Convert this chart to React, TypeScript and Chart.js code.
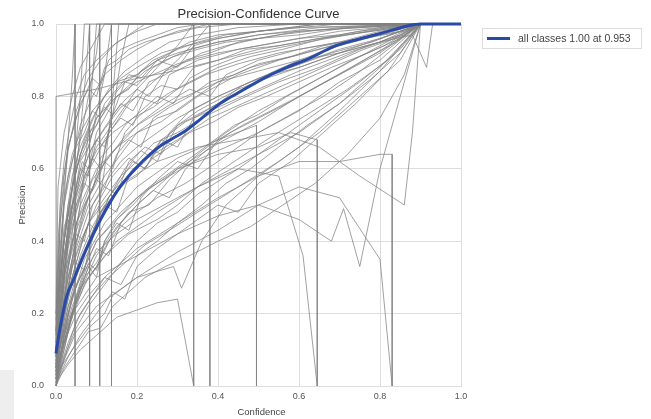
import React, { useEffect, useRef } from "react";
import { Chart, registerables } from "chart.js";

Chart.register(...registerables);

// ---- data ----
const tickValues = [0, 0.2, 0.4, 0.6, 0.8, 1.0];
const chartTitle = "Precision-Confidence Curve";
const xTitle = "Confidence";
const yTitle = "Precision";
const legendLabel = "all classes 1.00 at 0.953";

const allConf = [0, 0.01, 0.027, 0.042, 0.064, 0.084, 0.11, 0.135, 0.158, 0.2, 0.232, 0.26, 0.29, 0.32, 0.36, 0.405, 0.45, 0.52, 0.57, 0.627, 0.684, 0.72, 0.768, 0.83, 0.87, 0.9, 1.0];
const allPrec = [0.09, 0.16, 0.25, 0.29, 0.35, 0.4, 0.46, 0.51, 0.55, 0.605, 0.64, 0.665, 0.685, 0.705, 0.74, 0.78, 0.81, 0.854, 0.88, 0.906, 0.937, 0.95, 0.964, 0.983, 0.995, 1.0, 1.0];

const c01 = [[0,0.1],[0.01,0.35],[0.025,0.6],[0.04,0.85],[0.047,1.0],[0.047,0]];
const c02 = [[0,0.05],[0.02,0.3],[0.04,0.5],[0.06,0.7],[0.075,0.88],[0.083,1.0],[0.083,0]];
const c03 = [[0,0.15],[0.02,0.4],[0.05,0.62],[0.08,0.8],[0.1,0.92],[0.108,1.0],[0.108,0]];
const c04 = [[0,0.0],[0.01,0.2],[0.03,0.42],[0.06,0.58],[0.09,0.7],[0.12,0.86],[0.137,1.0],[0.137,0]];
const c05 = [[0,0.08],[0.02,0.35],[0.05,0.52],[0.1,0.66],[0.15,0.74],[0.2,0.82],[0.25,0.88],[0.3,0.94],[0.34,1.0],[0.34,0]];
const c06 = [[0,0.12],[0.03,0.4],[0.07,0.57],[0.12,0.68],[0.18,0.78],[0.24,0.84],[0.3,0.9],[0.35,0.96],[0.38,1.0],[0.38,0]];
const c07 = [[0,0.02],[0.03,0.2],[0.07,0.35],[0.12,0.45],[0.2,0.55],[0.3,0.63],[0.4,0.68],[0.495,0.72],[0.495,0]];
const c08 = [[0,0.03],[0.03,0.18],[0.08,0.3],[0.15,0.4],[0.25,0.48],[0.35,0.55],[0.45,0.6],[0.55,0.58],[0.61,0.36],[0.645,0]];
const c09 = [[0,0.06],[0.04,0.25],[0.1,0.4],[0.2,0.52],[0.3,0.6],[0.4,0.64],[0.5,0.66],[0.58,0.7],[0.645,0.68],[0.645,0]];
const c10 = [[0,0.02],[0.05,0.15],[0.1,0.22],[0.2,0.3],[0.3,0.37],[0.4,0.43],[0.5,0.5],[0.6,0.55],[0.7,0.52],[0.8,0.35],[0.83,0]];
const c11 = [[0,0.0],[0.05,0.18],[0.12,0.3],[0.2,0.38],[0.3,0.45],[0.4,0.52],[0.5,0.58],[0.6,0.62],[0.7,0.62],[0.8,0.64],[0.83,0.64],[0.83,0]];
const c12 = [[0,0.04],[0.04,0.2],[0.1,0.3],[0.2,0.36],[0.3,0.42],[0.4,0.47],[0.5,0.5],[0.6,0.46],[0.68,0.4],[0.71,0.49],[0.75,0.33],[0.8,0.6],[0.85,0.8],[0.9,1.0]];
const c13 = [[0,0.1],[0.03,0.3],[0.08,0.45],[0.15,0.55],[0.25,0.62],[0.35,0.66],[0.45,0.68],[0.55,0.7],[0.65,0.66],[0.75,0.58],[0.86,0.5],[0.88,0.7],[0.9,1.0]];
const c14 = [[0,0],[0,0.8],[0.1,0.82],[0.2,0.85],[0.29,0.87],[0.4,0.9],[0.5,0.93],[0.6,0.95],[0.75,0.98],[0.9,1.0]];
const c15 = [[0,0.05],[0.03,0.3],[0.07,0.5],[0.12,0.62],[0.2,0.72],[0.3,0.79],[0.4,0.84],[0.5,0.87],[0.6,0.9],[0.7,0.92],[0.8,0.95],[0.88,0.97],[0.915,0.88],[0.93,1.0]];
const c16 = [[0,0.08],[0.01,0.3],[0.03,0.5],[0.06,0.64],[0.1,0.74],[0.15,0.8],[0.2,0.84],[0.3,0.89],[0.4,0.92],[0.5,0.94],[0.6,0.96],[0.7,0.97],[0.8,0.99],[0.9,1.0]];
const c17 = [[0,0.05],[0.02,0.22],[0.05,0.38],[0.08,0.48],[0.12,0.56],[0.16,0.62],[0.2,0.66],[0.25,0.7],[0.3,0.74],[0.4,0.8],[0.5,0.85],[0.6,0.89],[0.7,0.93],[0.8,0.96],[0.9,1.0]];
const c18 = [[0,0.12],[0.02,0.4],[0.04,0.55],[0.07,0.68],[0.1,0.76],[0.13,0.82],[0.17,0.87],[0.22,0.91],[0.28,0.95],[0.35,0.97],[0.45,0.99],[0.6,1.0],[0.9,1.0]];
const c19 = [[0,0.02],[0.02,0.12],[0.05,0.24],[0.1,0.36],[0.15,0.44],[0.2,0.5],[0.25,0.55],[0.3,0.6],[0.4,0.67],[0.5,0.73],[0.6,0.8],[0.7,0.86],[0.8,0.92],[0.9,1.0]];
const c20 = [[0,0.15],[0.01,0.45],[0.03,0.65],[0.05,0.76],[0.08,0.85],[0.11,0.9],[0.15,0.95],[0.2,0.98],[0.25,1.0],[0.9,1.0]];
const c21 = [[0,0.04],[0.02,0.18],[0.04,0.3],[0.07,0.42],[0.1,0.5],[0.14,0.58],[0.18,0.63],[0.22,0.6],[0.26,0.68],[0.32,0.73],[0.4,0.77],[0.5,0.82],[0.6,0.87],[0.72,0.92],[0.85,0.97],[0.9,1.0]];
const c22 = [[0,0.1],[0.01,0.25],[0.03,0.45],[0.06,0.58],[0.09,0.66],[0.12,0.71],[0.16,0.77],[0.2,0.8],[0.25,0.78],[0.28,0.86],[0.35,0.9],[0.45,0.93],[0.55,0.95],[0.7,0.98],[0.9,1.0]];
const c23 = [[0,0.0],[0.02,0.08],[0.05,0.16],[0.08,0.22],[0.12,0.28],[0.16,0.34],[0.2,0.4],[0.25,0.45],[0.3,0.48],[0.35,0.53],[0.45,0.6],[0.55,0.68],[0.65,0.76],[0.75,0.84],[0.85,0.93],[0.9,1.0]];
const c24 = [[0,0.2],[0.005,0.55],[0.02,0.7],[0.04,0.8],[0.06,0.88],[0.09,0.94],[0.12,1.0],[0.9,1.0]];
const c25 = [[0,0.06],[0.02,0.28],[0.05,0.45],[0.09,0.57],[0.13,0.63],[0.17,0.69],[0.21,0.73],[0.27,0.78],[0.33,0.82],[0.38,0.8],[0.42,0.86],[0.5,0.9],[0.6,0.93],[0.7,0.95],[0.8,0.98],[0.9,1.0]];
const c26 = [[0,0.03],[0.03,0.15],[0.06,0.27],[0.1,0.33],[0.14,0.42],[0.18,0.48],[0.23,0.5],[0.28,0.57],[0.35,0.64],[0.42,0.7],[0.5,0.76],[0.6,0.82],[0.7,0.88],[0.8,0.94],[0.9,1.0]];
const c27 = [[0,0.1],[0.01,0.35],[0.02,0.5],[0.04,0.62],[0.06,0.72],[0.09,0.8],[0.12,0.86],[0.16,0.9],[0.2,0.93],[0.25,0.96],[0.3,0.98],[0.38,1.0],[0.9,1.0]];
const c28 = [[0,0.07],[0.02,0.2],[0.04,0.33],[0.06,0.4],[0.09,0.47],[0.12,0.52],[0.16,0.58],[0.2,0.62],[0.24,0.67],[0.3,0.7],[0.36,0.74],[0.45,0.79],[0.55,0.84],[0.65,0.88],[0.75,0.93],[0.85,0.97],[0.9,1.0]];
const c29 = [[0,0.02],[0.01,0.1],[0.03,0.22],[0.06,0.3],[0.1,0.37],[0.15,0.42],[0.2,0.46],[0.3,0.52],[0.4,0.58],[0.5,0.64],[0.6,0.7],[0.7,0.78],[0.8,0.88],[0.9,1.0]];
const c30 = [[0,0.14],[0.01,0.38],[0.02,0.52],[0.04,0.64],[0.06,0.7],[0.09,0.76],[0.12,0.8],[0.15,0.84],[0.2,0.86],[0.25,0.9],[0.3,0.92],[0.4,0.95],[0.5,0.97],[0.65,0.99],[0.9,1.0]];
const c31 = [[0,0.05],[0.03,0.22],[0.06,0.35],[0.1,0.45],[0.13,0.52],[0.17,0.6],[0.21,0.65],[0.25,0.62],[0.28,0.7],[0.33,0.76],[0.4,0.8],[0.48,0.84],[0.58,0.88],[0.68,0.92],[0.78,0.95],[0.9,1.0]];
const c32 = [[0,0.0],[0.01,0.05],[0.03,0.12],[0.06,0.2],[0.09,0.25],[0.13,0.3],[0.18,0.35],[0.22,0.39],[0.28,0.43],[0.35,0.48],[0.45,0.55],[0.55,0.62],[0.65,0.7],[0.75,0.8],[0.85,0.9],[0.9,1.0]];
const c33 = [[0,0.18],[0.01,0.5],[0.02,0.62],[0.035,0.72],[0.05,0.8],[0.07,0.86],[0.1,0.9],[0.14,0.94],[0.18,0.97],[0.22,1.0],[0.9,1.0]];
const c34 = [[0,0.09],[0.02,0.32],[0.04,0.46],[0.07,0.58],[0.1,0.65],[0.14,0.7],[0.19,0.74],[0.24,0.77],[0.3,0.82],[0.37,0.86],[0.45,0.89],[0.55,0.92],[0.65,0.94],[0.75,0.96],[0.85,0.99],[0.9,1.0]];
const c35 = [[0,0.01],[0.02,0.14],[0.05,0.3],[0.08,0.4],[0.11,0.48],[0.15,0.54],[0.19,0.6],[0.24,0.64],[0.3,0.68],[0.38,0.74],[0.46,0.78],[0.56,0.83],[0.66,0.88],[0.76,0.93],[0.86,0.97],[0.9,1.0]];
const c36 = [[0,0.11],[0.015,0.36],[0.03,0.48],[0.05,0.6],[0.08,0.68],[0.11,0.74],[0.14,0.79],[0.18,0.83],[0.22,0.87],[0.27,0.9],[0.33,0.93],[0.4,0.95],[0.5,0.97],[0.6,0.98],[0.75,0.99],[0.9,1.0]];
const c37 = [[0,0.04],[0.03,0.16],[0.07,0.28],[0.12,0.36],[0.18,0.42],[0.25,0.46],[0.3,0.5],[0.36,0.56],[0.44,0.62],[0.52,0.68],[0.62,0.75],[0.72,0.82],[0.82,0.9],[0.9,1.0]];
const c38 = [[0,0.01],[0.03,0.06],[0.06,0.1],[0.1,0.14],[0.15,0.19],[0.2,0.21],[0.25,0.23],[0.3,0.24],[0.34,0.0]];
const c39 = [[0,0.03],[0.04,0.1],[0.08,0.16],[0.12,0.2],[0.14,0.25],[0.2,0.3],[0.29,0.33],[0.31,0.27],[0.36,0.4],[0.42,0.5],[0.5,0.58],[0.6,0.66],[0.7,0.76],[0.8,0.87],[0.9,1.0]];
const c40 = [[0,0.13],[0.02,0.42],[0.04,0.58],[0.06,0.66],[0.09,0.74],[0.12,0.8],[0.16,0.85],[0.2,0.88],[0.26,0.92],[0.32,0.94],[0.4,0.96],[0.5,0.98],[0.7,1.0],[0.9,1.0]];
const c41 = [[0,0.06],[0.02,0.25],[0.05,0.4],[0.08,0.5],[0.12,0.58],[0.16,0.64],[0.2,0.7],[0.25,0.74],[0.3,0.76],[0.35,0.8],[0.45,0.86],[0.55,0.9],[0.65,0.93],[0.75,0.96],[0.85,0.98],[0.9,1.0]];
const c42 = [[0,0.02],[0.02,0.1],[0.04,0.2],[0.07,0.3],[0.1,0.34],[0.13,0.4],[0.16,0.44],[0.2,0.48],[0.25,0.52],[0.32,0.56],[0.4,0.62],[0.5,0.7],[0.6,0.76],[0.7,0.84],[0.8,0.9],[0.9,1.0]];
const c43 = [[0,0.05],[0.02,0.2],[0.04,0.35],[0.06,0.5],[0.08,0.7],[0.1,1.0],[0.9,1.0]];
const c44 = [[0,0.1],[0.02,0.3],[0.05,0.45],[0.08,0.52],[0.11,0.6],[0.14,0.75],[0.16,0.9],[0.18,1.0],[0.9,1.0]];
const c45 = [[0,0.07],[0.03,0.33],[0.06,0.5],[0.1,0.6],[0.15,0.66],[0.2,0.7],[0.26,0.73],[0.32,0.78],[0.4,0.84],[0.48,0.88],[0.58,0.91],[0.68,0.94],[0.78,0.97],[0.9,1.0]];
const c46 = [[0,0.0],[0.02,0.15],[0.05,0.28],[0.1,0.4],[0.16,0.48],[0.22,0.54],[0.28,0.58],[0.34,0.62],[0.42,0.66],[0.5,0.7],[0.58,0.75],[0.66,0.8],[0.74,0.86],[0.82,0.93],[0.9,1.0]];
const d01 = [[0,0.06],[0.02,0.3],[0.035,0.38],[0.05,0.5],[0.07,0.55],[0.09,0.63],[0.11,0.6],[0.13,0.7],[0.16,0.74],[0.19,0.72],[0.22,0.8],[0.26,0.83],[0.3,0.82],[0.34,0.88],[0.4,0.9],[0.47,0.93],[0.55,0.94],[0.65,0.96],[0.78,0.98],[0.9,1.0]];
const d02 = [[0,0.1],[0.01,0.2],[0.03,0.33],[0.05,0.42],[0.07,0.4],[0.09,0.5],[0.12,0.55],[0.15,0.53],[0.18,0.62],[0.22,0.66],[0.26,0.64],[0.3,0.72],[0.35,0.75],[0.4,0.78],[0.46,0.83],[0.52,0.86],[0.6,0.9],[0.7,0.94],[0.8,0.97],[0.9,1.0]];
const d03 = [[0,0.03],[0.015,0.25],[0.03,0.45],[0.045,0.52],[0.06,0.62],[0.08,0.66],[0.1,0.74],[0.12,0.77],[0.14,0.75],[0.17,0.84],[0.2,0.86],[0.24,0.9],[0.28,0.92],[0.33,0.95],[0.4,0.97],[0.5,0.98],[0.65,1.0],[0.9,1.0]];
const d04 = [[0,0.0],[0.02,0.1],[0.04,0.2],[0.06,0.26],[0.08,0.33],[0.1,0.3],[0.12,0.4],[0.15,0.45],[0.18,0.43],[0.21,0.52],[0.25,0.57],[0.3,0.62],[0.35,0.6],[0.4,0.68],[0.46,0.72],[0.53,0.76],[0.6,0.8],[0.68,0.85],[0.76,0.9],[0.84,0.95],[0.9,1.0]];
const d05 = [[0,0.12],[0.01,0.3],[0.02,0.44],[0.04,0.5],[0.06,0.6],[0.08,0.58],[0.1,0.68],[0.13,0.73],[0.16,0.78],[0.19,0.76],[0.23,0.84],[0.27,0.86],[0.32,0.9],[0.38,0.92],[0.45,0.95],[0.55,0.97],[0.7,0.99],[0.9,1.0]];
const d06 = [[0,0.02],[0.02,0.14],[0.04,0.22],[0.07,0.3],[0.1,0.38],[0.13,0.36],[0.16,0.45],[0.2,0.5],[0.24,0.54],[0.28,0.52],[0.32,0.6],[0.37,0.65],[0.43,0.7],[0.5,0.74],[0.57,0.78],[0.65,0.83],[0.73,0.88],[0.82,0.94],[0.9,1.0]];
const d07 = [[0,0.15],[0.005,0.4],[0.015,0.55],[0.03,0.66],[0.045,0.72],[0.06,0.78],[0.08,0.82],[0.1,0.8],[0.12,0.88],[0.15,0.9],[0.18,0.93],[0.22,0.95],[0.28,0.97],[0.35,0.99],[0.45,1.0],[0.9,1.0]];
const d08 = [[0,0.05],[0.02,0.2],[0.04,0.28],[0.06,0.36],[0.09,0.44],[0.12,0.5],[0.15,0.48],[0.18,0.58],[0.22,0.62],[0.26,0.68],[0.3,0.66],[0.34,0.74],[0.4,0.78],[0.46,0.82],[0.53,0.86],[0.6,0.88],[0.7,0.92],[0.8,0.96],[0.9,1.0]];
const d09 = [[0,0.08],[0.01,0.22],[0.02,0.36],[0.035,0.46],[0.05,0.55],[0.065,0.62],[0.08,0.6],[0.1,0.7],[0.12,0.74],[0.15,0.8],[0.18,0.82],[0.21,0.87],[0.25,0.9],[0.3,0.88],[0.34,0.94],[0.4,0.96],[0.5,0.98],[0.6,0.99],[0.9,1.0]];
const d10 = [[0,0.01],[0.03,0.08],[0.06,0.14],[0.1,0.2],[0.14,0.26],[0.17,0.24],[0.2,0.33],[0.25,0.38],[0.3,0.42],[0.35,0.46],[0.4,0.5],[0.45,0.48],[0.5,0.56],[0.58,0.62],[0.66,0.7],[0.74,0.78],[0.82,0.87],[0.9,1.0]];
const d11 = [[0,0.2],[0.01,0.32],[0.02,0.5],[0.03,0.58],[0.05,0.66],[0.07,0.7],[0.09,0.76],[0.11,0.74],[0.14,0.8],[0.17,0.84],[0.2,0.83],[0.24,0.88],[0.29,0.91],[0.35,0.93],[0.42,0.95],[0.5,0.96],[0.6,0.98],[0.75,0.99],[0.9,1.0]];
const d12 = [[0,0.04],[0.01,0.16],[0.025,0.28],[0.04,0.4],[0.06,0.46],[0.08,0.52],[0.1,0.57],[0.12,0.55],[0.15,0.64],[0.18,0.68],[0.21,0.66],[0.24,0.74],[0.28,0.77],[0.33,0.8],[0.38,0.84],[0.44,0.86],[0.5,0.89],[0.58,0.91],[0.66,0.94],[0.76,0.96],[0.86,0.98],[0.9,1.0]];
const d13 = [[0,0.0],[0.01,0.06],[0.02,0.14],[0.04,0.2],[0.06,0.28],[0.08,0.34],[0.1,0.32],[0.12,0.4],[0.15,0.46],[0.19,0.5],[0.23,0.55],[0.27,0.58],[0.32,0.62],[0.38,0.67],[0.44,0.72],[0.5,0.75],[0.57,0.8],[0.65,0.85],[0.73,0.9],[0.81,0.94],[0.9,1.0]];
const d14 = [[0,0.1],[0.02,0.36],[0.04,0.5],[0.06,0.56],[0.08,0.64],[0.1,0.68],[0.12,0.66],[0.14,0.75],[0.17,0.79],[0.2,0.82],[0.23,0.8],[0.27,0.87],[0.31,0.89],[0.36,0.92],[0.42,0.94],[0.5,0.96],[0.6,0.97],[0.72,0.99],[0.9,1.0]];
const d15 = [[0,0.06],[0.02,0.12],[0.05,0.2],[0.08,0.25],[0.12,0.3],[0.16,0.28],[0.2,0.36],[0.25,0.4],[0.3,0.45],[0.36,0.5],[0.42,0.56],[0.48,0.6],[0.55,0.66],[0.62,0.72],[0.7,0.78],[0.78,0.85],[0.85,0.92],[0.9,1.0]];
const d16 = [[0,0.14],[0.01,0.44],[0.02,0.58],[0.03,0.66],[0.05,0.74],[0.07,0.8],[0.09,0.85],[0.11,0.83],[0.13,0.9],[0.16,0.93],[0.2,0.95],[0.25,0.97],[0.3,0.99],[0.36,1.0],[0.9,1.0]];
const d17 = [[0,0.07],[0.02,0.2],[0.04,0.3],[0.06,0.38],[0.08,0.45],[0.1,0.43],[0.13,0.52],[0.16,0.57],[0.19,0.62],[0.22,0.6],[0.26,0.67],[0.3,0.72],[0.35,0.76],[0.4,0.79],[0.45,0.82],[0.52,0.85],[0.6,0.88],[0.7,0.92],[0.8,0.95],[0.9,1.0]];
const d18 = [[0,0.03],[0.02,0.18],[0.04,0.34],[0.06,0.44],[0.08,0.52],[0.1,0.56],[0.12,0.62],[0.14,0.6],[0.17,0.7],[0.2,0.74],[0.24,0.78],[0.28,0.81],[0.33,0.84],[0.4,0.88],[0.48,0.91],[0.56,0.93],[0.66,0.96],[0.78,0.98],[0.9,1.0]];
const d19 = [[0,0.02],[0.02,0.12],[0.05,0.25],[0.08,0.36],[0.1,0.45],[0.12,0.6],[0.14,0.8],[0.155,1.0],[0.9,1.0]];
const d20 = [[0,0.04],[0.02,0.3],[0.04,0.55],[0.06,0.8],[0.07,1.0],[0.9,1.0]];
const d21 = [[0,0.08],[0.01,0.16],[0.03,0.26],[0.05,0.34],[0.07,0.32],[0.09,0.42],[0.11,0.48],[0.14,0.52],[0.17,0.56],[0.2,0.58],[0.24,0.63],[0.28,0.66],[0.33,0.7],[0.39,0.73],[0.45,0.77],[0.52,0.8],[0.6,0.84],[0.68,0.88],[0.77,0.92],[0.85,0.96],[0.9,1.0]];
const d22 = [[0,0.1],[0.01,0.28],[0.02,0.4],[0.04,0.55],[0.06,0.64],[0.08,0.7],[0.1,0.72],[0.12,0.78],[0.15,0.82],[0.18,0.86],[0.21,0.85],[0.25,0.9],[0.3,0.93],[0.35,0.95],[0.42,0.97],[0.5,0.98],[0.65,1.0],[0.9,1.0]];
const d23 = [[0,0.0],[0.02,0.05],[0.05,0.1],[0.08,0.15],[0.11,0.16],[0.14,0.22],[0.18,0.26],[0.22,0.3],[0.27,0.33],[0.33,0.36],[0.4,0.4],[0.48,0.44],[0.56,0.5],[0.64,0.56],[0.72,0.64],[0.8,0.74],[0.86,0.86],[0.9,1.0]];
const d24 = [[0,0.05],[0.015,0.24],[0.03,0.38],[0.05,0.48],[0.07,0.56],[0.09,0.54],[0.11,0.63],[0.14,0.67],[0.17,0.72],[0.21,0.76],[0.25,0.8],[0.29,0.78],[0.33,0.85],[0.38,0.88],[0.45,0.91],[0.53,0.93],[0.62,0.95],[0.72,0.97],[0.82,0.99],[0.9,1.0]];

const classCurves = [c01,c02,c03,c04,c05,c06,c07,c08,c09,c10,c11,c12,c13,c14,c15,c16,c17,c18,c19,c20,c21,c22,c23,c24,c25,c26,c27,c28,c29,c30,c31,c32,c33,c34,c35,c36,c37,c38,c39,c40,c41,c42,c43,c44,c45,c46,d01,d02,d03,d04,d05,d06,d07,d08,d09,d10,d11,d12,d13,d14,d15,d16,d17,d18,d19,d20,d21,d22,d23,d24];

const FONT = "'Liberation Sans', Arial, Helvetica, sans-serif";

const overlayPlugin = {
  id: "overlayText",
  afterDraw(chart: any) {
    const ctx = chart.ctx;
    const ca = chart.chartArea;
    ctx.save();
    ctx.fillStyle = "#333333";
    ctx.font = `13px ${FONT}`;
    ctx.textAlign = "center";
    ctx.textBaseline = "middle";
    ctx.fillText(chartTitle, (ca.left + ca.right) / 2, 14);
    ctx.fillStyle = "#444444";
    ctx.font = `9.5px ${FONT}`;
    ctx.fillText(xTitle, (ca.left + ca.right) / 2 + 3, 412);
    ctx.save();
    ctx.translate(22, (ca.top + ca.bottom) / 2);
    ctx.rotate(-Math.PI / 2);
    ctx.fillText(yTitle, 0, 0);
    ctx.restore();
    const lx = 482, ly = 28, lw = 159, lh = 20;
    ctx.fillStyle = "rgba(255,255,255,0.9)";
    ctx.fillRect(lx, ly, lw, lh);
    ctx.strokeStyle = "#dddddd";
    ctx.lineWidth = 1;
    ctx.strokeRect(lx + 0.5, ly + 0.5, lw, lh);
    ctx.strokeStyle = "#2a4aa8";
    ctx.lineWidth = 3;
    ctx.beginPath();
    ctx.moveTo(487, ly + 10.5);
    ctx.lineTo(510, ly + 10.5);
    ctx.stroke();
    ctx.fillStyle = "#444444";
    ctx.font = `10.5px ${FONT}`;
    ctx.textAlign = "left";
    ctx.fillText(legendLabel, 518, ly + 11);
    ctx.restore();
  },
};

export default function App() {
  const ref = useRef<HTMLCanvasElement | null>(null);

  useEffect(() => {
    if (!ref.current) return;
    const gray = classCurves.map((curve) => ({
      data: curve.map((p) => ({ x: p[0], y: p[1] })),
      borderColor: "rgba(130,130,130,0.75)",
      borderWidth: 1,
      pointRadius: 0,
      showLine: true,
      fill: false,
      order: 2,
      clip: 1,
    }));
    const blue = {
      data: allConf.map((x, i) => ({ x, y: allPrec[i] })),
      borderColor: "#2a4aa8",
      borderWidth: 3,
      pointRadius: 0,
      showLine: true,
      fill: false,
      order: 1,
      clip: 3,
      tension: 0.3,
      cubicInterpolationMode: "monotone",
    };
    const chart = new Chart(ref.current, {
      type: "scatter",
      data: { datasets: [blue, ...gray] as any },
      plugins: [overlayPlugin],
      options: {
        animation: false,
        responsive: false,
        maintainAspectRatio: false,
        layout: { padding: { left: 0, right: 190, top: 24, bottom: 0 } },
        plugins: { legend: { display: false }, tooltip: { enabled: false }, title: { display: false } },
        scales: {
          x: {
            type: "linear",
            min: 0,
            max: 1,
            afterFit: (s: any) => { s.height = 33; },
            afterBuildTicks: (s: any) => { s.ticks = tickValues.map((v) => ({ value: v })); },
            ticks: {
              padding: 5,
              color: "#555555",
              font: { family: FONT, size: 9 },
              callback: (v: any) => Number(v).toFixed(1),
            },
            grid: { color: "#dddddd", lineWidth: 1, drawTicks: false },
            border: { display: true, color: "#dddddd" },
          },
          y: {
            type: "linear",
            min: 0,
            max: 1,
            afterFit: (s: any) => { s.width = 56; },
            afterBuildTicks: (s: any) => { s.ticks = tickValues.map((v) => ({ value: v })); },
            ticks: {
              padding: 12,
              color: "#555555",
              font: { family: FONT, size: 9 },
              callback: (v: any) => Number(v).toFixed(1),
            },
            grid: { color: "#dddddd", lineWidth: 1, drawTicks: false },
            border: { display: true, color: "#dddddd" },
          },
        },
      },
    });
    return () => chart.destroy();
  }, []);

  return (
    <div style={{ position: "fixed", left: 0, top: 0, width: 651, height: 419, background: "#ffffff" }}>
      <canvas ref={ref} width={651} height={419} style={{ width: 651, height: 419, display: "block" }} />
      <div style={{ position: "absolute", left: 0, top: 370, width: 14, height: 49, background: "#eeeeee" }} />
    </div>
  );
}
